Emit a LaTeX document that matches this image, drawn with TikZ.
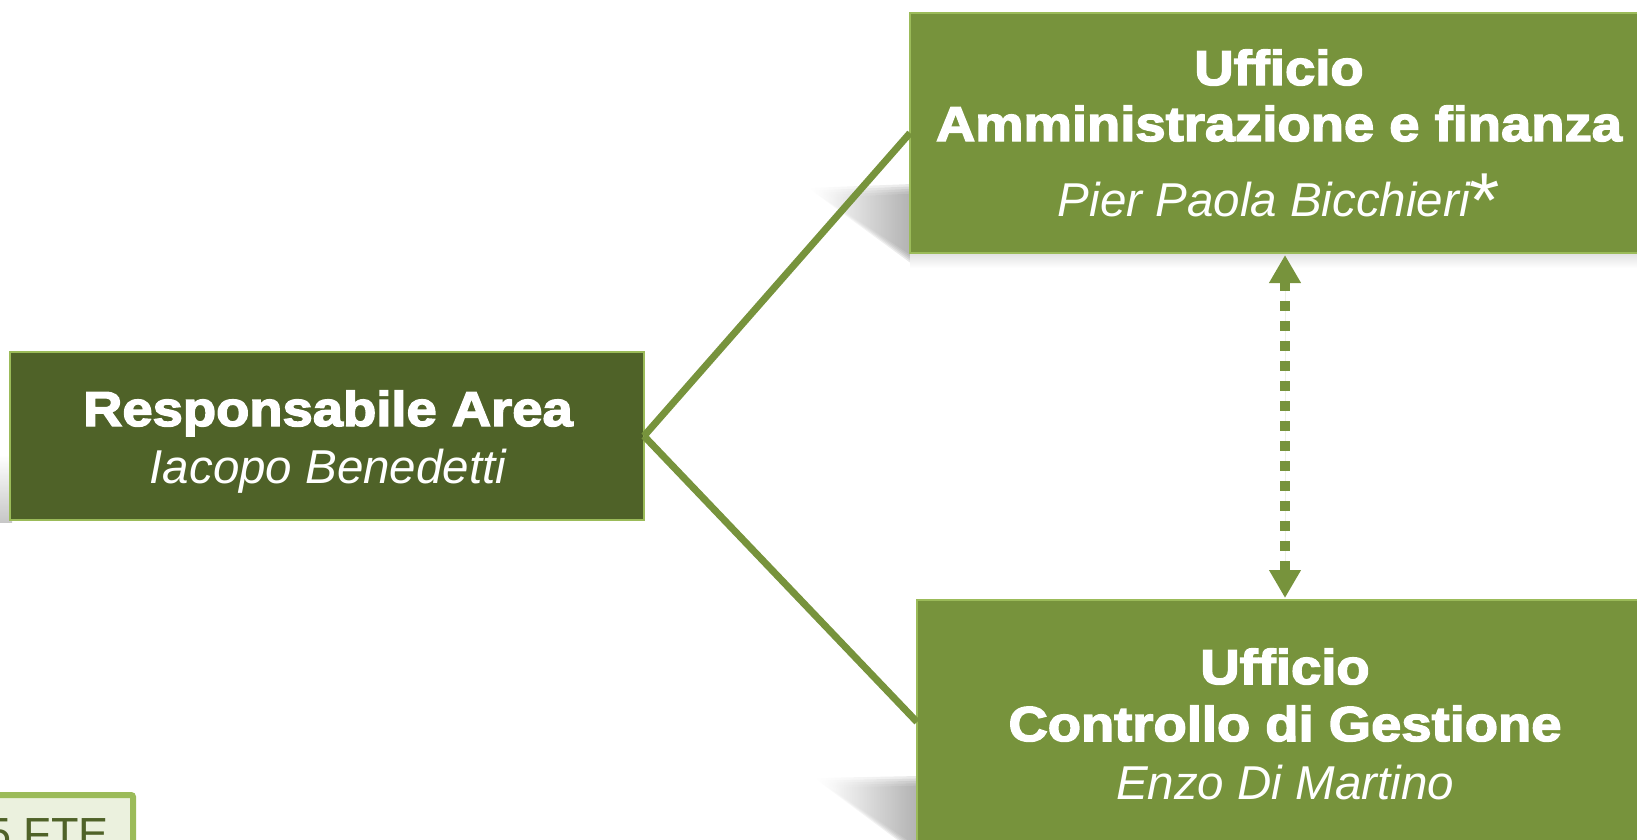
\documentclass[tikz,border=0pt]{standalone}
\usepackage{fontspec}
\setmainfont{Liberation Sans}
\newfontfamily\heavyfont[FakeBold=3,FakeStretch=1.11]{Liberation Sans Bold}
\usetikzlibrary{arrows.meta}
\definecolor{dkgreen}{HTML}{4F6228}
\definecolor{mdgreen}{HTML}{77933C}
\definecolor{ltgreen}{HTML}{9BBB59}
\definecolor{ftefill}{HTML}{EBF1DE}
\tikzset{
  box/.style={rectangle, draw=ltgreen, line width=1.5pt, inner sep=0pt, outer sep=0pt},
  headtxt/.style={text=white, font=\heavyfont\fontsize{49}{55}\selectfont, inner sep=0pt, anchor=base},
  nametxt/.style={text=white, font=\itshape\fontsize{47.5}{55}\selectfont, inner sep=0pt, anchor=base},
  conn/.style={draw=mdgreen, line width=7pt},
  dotarrow/.style={draw=mdgreen, fill=mdgreen, line width=10pt, dash pattern=on 10pt off 10pt,
     {Triangle[length=28pt,width=30pt]}-{Triangle[length=28pt,width=30pt]}, shorten <=2pt, shorten >=2pt},
  shadowpart/.style={left color=white, right color=black!45, opacity=0.2},
}
\begin{document}
\begin{tikzpicture}[x=1pt,y=-1pt]
\useasboundingbox (0,0) rectangle (1637,839);
\clip (0,0) rectangle (1637,839);
% soft shadows
\foreach \d in {0,4,8,12,16} {
  \shade[shadowpart] (808+\d,188+0.6*\d) -- (912,184+0.6*\d) -- (912,264-0.5*\d) -- cycle;
  \shade[shadowpart] (814+\d,778+0.6*\d) -- (919,776+0.6*\d) -- (919,856-0.5*\d) -- cycle;
}
\shade[top color=white, bottom color=black!22] (0,455) rectangle (12,522);
\shade[top color=black!12, bottom color=white] (910,253) rectangle (1640,268);
% boxes
\node[box, fill=dkgreen, minimum width=634pt, minimum height=168pt, anchor=north west] (resp) at (10,352) {};
\node[box, fill=mdgreen, minimum width=740pt, minimum height=240pt, anchor=north west] (amm) at (910,13) {};
\node[box, fill=mdgreen, minimum width=740pt, minimum height=244pt, anchor=north west] (cg) at (917,600) {};
% texts
\node[headtxt] (respT) at (328,426) {Responsabile Area};
\node[nametxt] (respN) at (328,483) {Iacopo Benedetti};
\node[headtxt] (ammT1) at (1279,85) {Ufficio};
\node[headtxt] (ammT2) at (1279,141) {Amministrazione e finanza};
\node[nametxt] (ammN) at (1279,216) {Pier Paola Bicchieri\raisebox{-11pt}{\upshape\fontsize{78}{78}\selectfont *}};
\node[headtxt] (cgT1) at (1285,684) {Ufficio};
\node[headtxt] (cgT2) at (1285,741) {Controllo di Gestione};
\node[nametxt] (cgN) at (1285,799) {Enzo Di Martino};
% connectors
\draw[conn] (resp.east) -- (amm.west);
\draw[conn] (resp.east) -- (cg.west);
\coordinate (ax) at (1285,400);
\draw[dotarrow] (amm.south -| ax) -- (cg.north -| ax);
% FTE box
\node[rectangle, draw=ltgreen, fill=ftefill, line width=6pt, rounded corners=2pt, minimum width=180pt, minimum height=80pt, anchor=north east] (fte) at (136,792) {};
\node[text=dkgreen, font=\fontsize{45}{50}\selectfont, inner sep=0pt, anchor=base west] (fteT) at (-14,849) {5 FTE};
\end{tikzpicture}
\end{document}
